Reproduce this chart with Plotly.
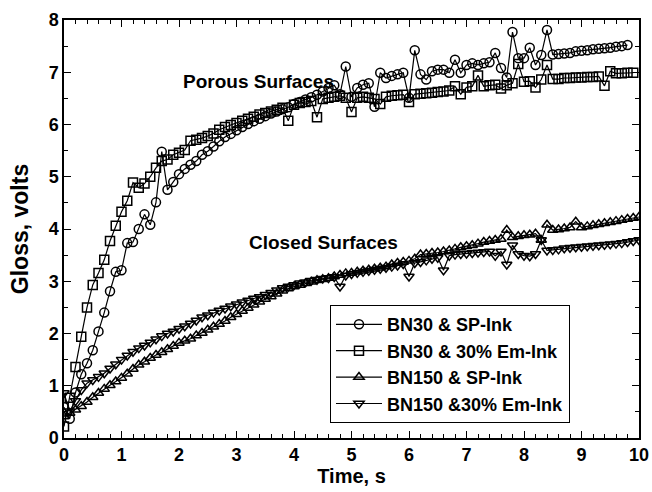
import plotly.graph_objects as go

# Time axis (s), sampled every 0.1 s
time_s = [0.0, 0.1, 0.2, 0.3, 0.4, 0.5, 0.6, 0.7, 0.8, 0.9,
          1.0, 1.1, 1.2, 1.3, 1.4, 1.5, 1.6, 1.7, 1.8, 1.9,
          2.0, 2.1, 2.2, 2.3, 2.4, 2.5, 2.6, 2.7, 2.8, 2.9,
          3.0, 3.1, 3.2, 3.3, 3.4, 3.5, 3.6, 3.7, 3.8, 3.9,
          4.0, 4.1, 4.2, 4.3, 4.4, 4.5, 4.6, 4.7, 4.8, 4.9,
          5.0, 5.1, 5.2, 5.3, 5.4, 5.5, 5.6, 5.7, 5.8, 5.9,
          6.0, 6.1, 6.2, 6.3, 6.4, 6.5, 6.6, 6.7, 6.8, 6.9,
          7.0, 7.1, 7.2, 7.3, 7.4, 7.5, 7.6, 7.7, 7.8, 7.9,
          8.0, 8.1, 8.2, 8.3, 8.4, 8.5, 8.6, 8.7, 8.8, 8.9,
          9.0, 9.1, 9.2, 9.3, 9.4, 9.5, 9.6, 9.7, 9.8, 9.9,
          10.0]

# BN30 & SP-Ink (ends at 9.8 s)
bn30_sp = [0.59, 0.37, 0.87, 1.22, 1.43, 1.68, 2.04, 2.40, 2.81, 3.18,
           3.21, 3.73, 3.75, 4.00, 4.28, 4.08, 4.51, 5.48, 4.75, 4.90,
           5.05, 5.15, 5.23, 5.30, 5.42, 5.49, 5.58, 5.68, 5.76, 5.82,
           5.89, 5.95, 6.01, 6.06, 6.11, 6.16, 6.21, 6.25, 6.29, 6.33,
           6.39, 6.43, 6.48, 6.52, 6.57, 6.63, 6.70, 6.75, 6.58, 7.11,
           6.53, 6.70, 6.76, 6.79, 6.34, 6.99, 6.89, 6.93, 6.96, 6.99,
           6.51, 7.42, 6.96, 6.86, 7.02, 7.05, 7.05, 6.99, 7.24, 6.99,
           7.14, 7.17, 7.14, 7.17, 7.19, 7.37, 7.08, 6.90, 7.77, 7.27,
           7.27, 7.47, 7.14, 7.33, 7.81, 7.34, 7.35, 7.36, 7.37, 7.40,
           7.41, 7.42, 7.44, 7.45, 7.46, 7.47, 7.49, 7.50, 7.52]

# BN30 & 30% Em-Ink (ends at 9.9 s)
bn30_em = [0.22, 0.77, 1.36, 1.94, 2.50, 2.93, 3.16, 3.41, 3.77, 4.06,
           4.33, 4.54, 4.89, 4.79, 4.87, 5.00, 5.17, 5.30, 5.33, 5.42,
           5.46, 5.51, 5.69, 5.71, 5.74, 5.78, 5.83, 5.90, 5.95, 5.99,
           6.03, 6.07, 6.11, 6.15, 6.19, 6.22, 6.25, 6.28, 6.32, 6.07,
           6.38, 6.41, 6.43, 6.45, 6.14, 6.49, 6.51, 6.53, 6.55, 6.51,
           6.24, 6.51, 6.53, 6.51, 6.49, 6.39, 6.53, 6.55, 6.56, 6.57,
           6.43, 6.58, 6.59, 6.60, 6.61, 6.62, 6.63, 6.65, 6.73, 6.58,
           6.71, 6.73, 6.94, 6.73, 6.75, 6.76, 6.69, 6.75, 6.79, 7.16,
           6.82, 6.83, 6.71, 6.86, 7.14, 6.87, 6.87, 6.89, 6.89, 6.90,
           6.90, 6.91, 6.91, 6.92, 6.74, 7.02, 6.98, 6.98, 6.99, 6.99]

# BN150 & SP-Ink
bn150_sp = [0.41, 0.48, 0.54, 0.61, 0.69, 0.78, 0.86, 0.94, 1.01, 1.08,
            1.15, 1.23, 1.32, 1.40, 1.46, 1.53, 1.59, 1.64, 1.70, 1.76,
            1.82, 1.86, 1.90, 1.96, 2.01, 2.07, 2.13, 2.18, 2.24, 2.31,
            2.37, 2.43, 2.49, 2.55, 2.61, 2.66, 2.71, 2.76, 2.82, 2.86,
            2.90, 2.93, 2.96, 2.99, 3.02, 3.04, 3.06, 3.09, 3.12, 3.15,
            3.16, 3.18, 3.20, 3.22, 3.24, 3.26, 3.28, 3.32, 3.35, 3.37,
            3.39, 3.43, 3.51, 3.52, 3.54, 3.55, 3.57, 3.59, 3.62, 3.65,
            3.67, 3.69, 3.72, 3.75, 3.77, 3.79, 3.81, 3.98, 3.84, 3.86,
            3.88, 3.89, 3.91, 3.79, 4.08, 3.98, 3.99, 4.01, 4.03, 4.14,
            4.03, 4.05, 4.07, 4.09, 4.11, 4.13, 4.15, 4.17, 4.19, 4.21,
            4.23]

# BN150 & 30% Em-Ink
bn150_em = [0.86, 0.51, 0.71, 0.92, 1.05, 1.11, 1.17, 1.24, 1.33, 1.41,
            1.50, 1.58, 1.65, 1.72, 1.77, 1.83, 1.89, 1.95, 2.00, 2.04,
            2.09, 2.14, 2.19, 2.25, 2.31, 2.35, 2.40, 2.44, 2.48, 2.52,
            2.56, 2.60, 2.63, 2.67, 2.70, 2.74, 2.78, 2.83, 2.87, 2.90,
            2.93, 2.96, 2.98, 3.01, 3.03, 3.05, 3.06, 3.08, 2.90, 3.11,
            3.14, 3.16, 3.18, 3.20, 3.22, 3.24, 3.26, 3.28, 3.30, 3.33,
            3.09, 3.35, 3.37, 3.40, 3.43, 3.45, 3.21, 3.49, 3.51, 3.52,
            3.53, 3.54, 3.55, 3.56, 3.57, 3.49, 3.57, 3.32, 3.69, 3.52,
            3.49, 3.48, 3.52, 3.79, 3.59, 3.60, 3.61, 3.63, 3.64, 3.65,
            3.66, 3.67, 3.68, 3.69, 3.70, 3.71, 3.72, 3.73, 3.75, 3.77,
            3.79]

series_names = ["BN30 & SP-Ink", "BN30 & 30% Em-Ink", "BN150 & SP-Ink", "BN150 &30% Em-Ink"]
series_values = [bn30_sp, bn30_em, bn150_sp, bn150_em]
symbols = ["circle-open", "square-open", "triangle-up-open", "triangle-down-open"]

x_ticks = [0, 1, 2, 3, 4, 5, 6, 7, 8, 9, 10]
y_ticks = [0, 1, 2, 3, 4, 5, 6, 7, 8]

FONT = "Arial, Liberation Sans, Helvetica, sans-serif"

fig = go.Figure()
for i, (name, vals, sym) in enumerate(zip(series_names, series_values, symbols)):
    fig.add_trace(go.Scatter(
        x=time_s[:len(vals)], y=vals, name=name, mode="lines+markers",
        legendgroup=f"g{i}",
        line=dict(color="black", width=1.2),
        marker=dict(symbol=sym, size=9, color="black", line=dict(width=1.5, color="black")),
    ))

fig.add_annotation(x=3.39, y=6.82, text="Porous Surfaces", showarrow=False,
                   font=dict(family=FONT, size=19, color="black", weight="bold"))
fig.add_annotation(x=4.52, y=3.74, text="Closed Surfaces", showarrow=False,
                   font=dict(family=FONT, size=19, color="black", weight="bold"))

axis_common = dict(
    showline=True, linecolor="black", linewidth=1.5, mirror="ticks",
    ticks="inside", ticklen=7, tickwidth=1.3, tickcolor="black",
    showgrid=False, zeroline=False, automargin=False,
    tickfont=dict(family=FONT, size=18, color="black", weight="bold"),
)

fig.update_xaxes(range=[0, 10], tickvals=x_ticks, ticktext=[str(v) for v in x_ticks],
                 minor=dict(dtick=0.2, ticks="inside", ticklen=4, tickcolor="black", tickwidth=1),
                 title=dict(text="Time, s", standoff=4,
                            font=dict(family=FONT, size=20, color="black", weight="bold")),
                 **axis_common)
fig.update_yaxes(range=[0, 8], tickvals=y_ticks, ticktext=[str(v) for v in y_ticks],
                 minor=dict(dtick=0.5, ticks="inside", ticklen=4, tickcolor="black", tickwidth=1),
                 title=dict(text="Gloss, volts", standoff=14,
                            font=dict(family=FONT, size=23, color="black", weight="bold")),
                 **axis_common)

fig.update_layout(
    width=652, height=492,
    margin=dict(l=64, r=13, t=20, b=54, autoexpand=False),
    paper_bgcolor="white", plot_bgcolor="white",
    showlegend=True,
    legend=dict(x=0.4626, y=0.318, xanchor="left", yanchor="top",
                bordercolor="black", borderwidth=1, bgcolor="white",
                tracegroupgap=0, itemwidth=46,
                font=dict(family=FONT, size=18, color="black", weight="bold")),
)

# remove the default page margin so the figure sits at the window's top-left corner
fig.write_html("out.html", config={"displayModeBar": False},
               post_script="document.body.style.margin='0';document.body.style.overflow='hidden';")
